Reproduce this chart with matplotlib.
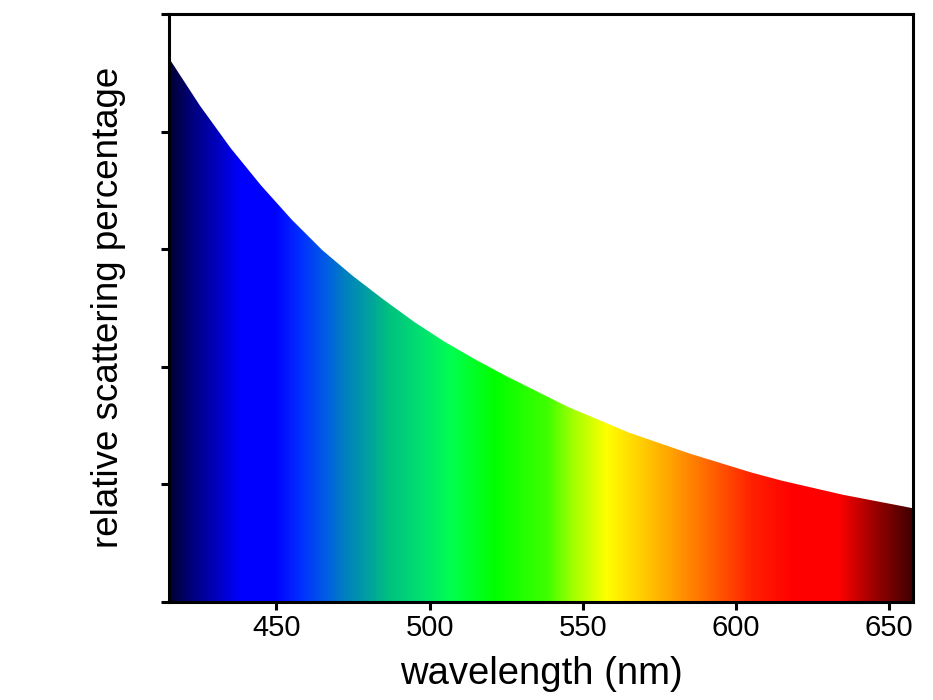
import numpy as np
import matplotlib
matplotlib.use("Agg")
import matplotlib.pyplot as plt
from matplotlib.colors import LinearSegmentedColormap, Normalize

plt.rcParams['font.family'] = ['Liberation Sans', 'DejaVu Sans']

# -------------------
# DATA
# -------------------
wavelength_nm = [415, 425, 435, 445, 455, 465, 475, 485, 495, 505, 515, 525, 535,
                 545, 555, 565, 575, 585, 595, 605, 615, 625, 635, 645, 655, 658]
scattering = [4.62, 4.22, 3.86, 3.54, 3.25, 2.99, 2.77, 2.57, 2.38, 2.21, 2.06,
              1.92, 1.79, 1.66, 1.55, 1.44, 1.35, 1.26, 1.18, 1.10, 1.03, 0.97,
              0.91, 0.86, 0.81, 0.794]

# spectrum colour stops (nm -> colour)
stop_nm = [415, 421, 428.6, 438.4, 449.4, 458, 466.9, 472.3, 480, 486.5, 497.3,
           507, 521.3, 538.8, 547, 558, 568.8, 579.6, 592.7, 605.8, 618.8, 634,
           643, 651.5, 658]
stop_colors = ['#000030', '#000070', '#0000b0', '#0000ff', '#0000ff', '#0030ff',
               '#0060e0', '#0080c0', '#00a0a0', '#00c080', '#00e070', '#00ff50',
               '#00ff00', '#40ff00', '#a0ff00', '#ffff00', '#ffd000', '#ffa000',
               '#ff6000', '#ff2000', '#ff0000', '#ff0000', '#b00000', '#700000',
               '#400000']

x_ticks = [450, 500, 550, 600, 650]
y_ticks = [0, 1, 2, 3, 4, 5]
X_MIN, X_MAX = 415, 658
Y_MIN, Y_MAX = 0, 5

# -------------------
# PLOT
# -------------------
fig = plt.figure(figsize=(9.33, 7.0), dpi=100)
ax = fig.add_axes([0.1815, 0.1404, 0.7974, 0.8396])

pos = [(v - X_MIN) / (X_MAX - X_MIN) for v in stop_nm]
spectrum = LinearSegmentedColormap.from_list("spectrum", list(zip(pos, stop_colors)), N=1024)

# gradient strip, clipped to the area under the curve
grad = np.linspace(X_MIN, X_MAX, 1200).reshape(1, -1)
img = ax.imshow(grad, cmap=spectrum, norm=Normalize(X_MIN, X_MAX),
                extent=[X_MIN, X_MAX, Y_MIN, Y_MAX], aspect='auto',
                origin='lower', interpolation='bilinear', zorder=1)
area = ax.fill_between(wavelength_nm, scattering, 0, facecolor='none',
                       edgecolor='none')
img.set_clip_path(area.get_paths()[0], transform=ax.transData)

ax.set_xlim(X_MIN, X_MAX)
ax.set_ylim(Y_MIN, Y_MAX)
ax.set_xticks(x_ticks)
ax.set_yticks(y_ticks)
ax.set_yticklabels([])

for sp in ax.spines.values():
    sp.set_linewidth(2.2)
    sp.set_zorder(3)
ax.tick_params(direction='out', length=6, width=2.2, labelsize=21, pad=3)

ax.set_xlabel('wavelength (nm)', fontsize=27.5, labelpad=10)
ax.set_ylabel('relative scattering percentage', fontsize=26.5, labelpad=22)

plt.savefig('out.png', dpi=100)
